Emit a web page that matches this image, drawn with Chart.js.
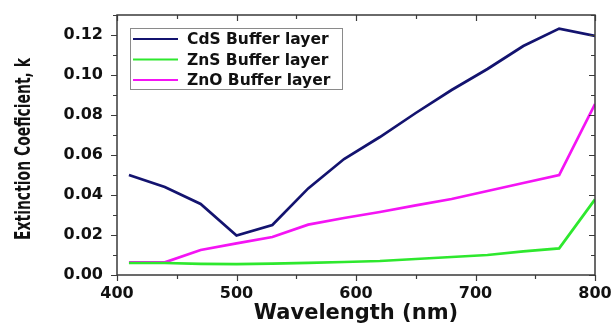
<!DOCTYPE html>
<html>
<head>
<meta charset="utf-8">
<script src="https://cdn.jsdelivr.net/npm/chart.js@4/dist/chart.umd.min.js"></script>
<style>
  html, body { margin: 0; padding: 0; background: #fff; }
  #wrap { width: 613px; height: 326px; }
</style>
</head>
<body>
<div id="wrap"><canvas id="kChart" width="613" height="326"></canvas></div>
<script>
// wavelength (nm) and extinction coefficient k
const wavelengths = [410, 440, 470, 500, 530, 560, 590, 620, 650, 680, 710, 740, 770, 800];
const cdsK = [0.050, 0.044, 0.0355, 0.0197, 0.025, 0.0433, 0.058, 0.069, 0.081, 0.0925, 0.103, 0.1145, 0.1232, 0.1195];
const znsK = [0.0060, 0.0060, 0.0056, 0.0054, 0.0057, 0.0061, 0.0065, 0.0070, 0.0080, 0.0090, 0.0100, 0.0118, 0.0133, 0.0378];
const znoK = [0.0063, 0.0063, 0.0125, 0.0158, 0.019, 0.0252, 0.0285, 0.0315, 0.0348, 0.038, 0.042, 0.046, 0.050, 0.0855];
const seriesNames = ['CdS Buffer layer', 'ZnS Buffer layer', 'ZnO Buffer layer'];
const seriesColors = ['#13136f', '#2ee82e', '#f414f4'];

const xTitle = 'Wavelength (nm)';
const yTitle = 'Extinction Coeficient, k';

function toPoints(ys) {
    return wavelengths.map((w, i) => ({ x: w, y: ys[i] }));
}

// frame, tick marks (major + minor, mirrored on top/right), narrow y title and the boxed legend
const framePlugin = {
    id: 'frame',
    afterDraw(chart) {
        const ctx = chart.ctx;
        const a = chart.chartArea;
        const xs = chart.scales.x;
        const ys = chart.scales.y;
        ctx.save();
        ctx.strokeStyle = '#3a3a3a';
        ctx.lineWidth = 1.5;
        ctx.strokeRect(a.left, a.top, a.right - a.left, a.bottom - a.top);

        ctx.lineWidth = 1.2;
        ctx.beginPath();
        ys.ticks.forEach(t => {
            const py = Math.round(ys.getPixelForValue(t.value)) + 0.5;
            const major = Math.round(t.value * 100) % 2 === 0;
            const len = major ? 6 : 4;
            ctx.moveTo(a.left, py); ctx.lineTo(a.left - len, py);
            ctx.moveTo(a.right, py); ctx.lineTo(a.right - len, py);
        });
        xs.ticks.forEach(t => {
            const px = Math.round(xs.getPixelForValue(t.value)) + 0.5;
            const major = t.value % 100 === 0;
            const len = major ? 6 : 4;
            ctx.moveTo(px, a.bottom); ctx.lineTo(px, a.bottom + len);
            ctx.moveTo(px, a.top); ctx.lineTo(px, a.top + len);
        });
        ctx.stroke();

        // y title: tall but narrow lettering, squeezed along its length
        ctx.save();
        ctx.font = 'bold 21px "DejaVu Sans Condensed", "DejaVu Sans", sans-serif';
        const tw = ctx.measureText(yTitle).width;
        ctx.translate(25, (a.top + a.bottom) / 2 + 4);
        ctx.rotate(-Math.PI / 2);
        ctx.scale(182 / tw, 1);
        ctx.fillStyle = '#111';
        ctx.textAlign = 'center';
        ctx.textBaseline = 'middle';
        ctx.fillText(yTitle, 0, 0);
        ctx.restore();

        // legend box
        const bx = a.left + 13, by = a.top + 13, bw = 212, bh = 61;
        ctx.fillStyle = '#fff';
        ctx.fillRect(bx, by, bw, bh);
        ctx.strokeStyle = '#8a8a8a';
        ctx.lineWidth = 1;
        ctx.strokeRect(bx + 0.5, by + 0.5, bw, bh);
        ctx.font = 'bold 15.5px "DejaVu Sans"';
        ctx.textBaseline = 'middle';
        chart.data.datasets.forEach((ds, i) => {
            const ry = by + 11 + i * 20.5;
            ctx.strokeStyle = ds.borderColor;
            ctx.lineWidth = 2;
            ctx.beginPath();
            ctx.moveTo(bx + 3, ry); ctx.lineTo(bx + 48, ry);
            ctx.stroke();
            ctx.fillStyle = '#111';
            ctx.fillText(ds.label, bx + 57, ry + 1);
        });
        ctx.restore();
    }
};

const ctx = document.getElementById('kChart').getContext('2d');
new Chart(ctx, {
    type: 'line',
    data: {
        datasets: seriesNames.map((name, i) => ({
            label: name,
            data: toPoints([cdsK, znsK, znoK][i]),
            borderColor: seriesColors[i],
            borderWidth: 2.7,
            pointRadius: 0,
            fill: false,
            tension: 0
        }))
    },
    options: {
        responsive: false,
        animation: false,
        layout: { padding: { left: 0, right: 18, top: 15, bottom: 0 } },
        plugins: { legend: { display: false }, tooltip: { enabled: false } },
        scales: {
            x: {
                type: 'linear',
                min: 400,
                max: 800,
                grid: { display: false, drawTicks: false },
                border: { display: false },
                ticks: {
                    stepSize: 50,
                    padding: 9,
                    color: '#111',
                    maxRotation: 0,
                    autoSkip: false,
                    font: { family: 'DejaVu Sans', weight: 'bold', size: 16 },
                    callback: v => (v % 100 === 0 ? String(v) : '')
                },
                title: {
                    display: true,
                    text: xTitle,
                    color: '#111',
                    padding: { top: 0, bottom: 0 },
                    font: { family: 'DejaVu Sans', weight: 'bold', size: 21 }
                },
                afterFit: s => { s.height = 51; s.paddingLeft = 0; s.paddingRight = 0; }
            },
            y: {
                min: 0,
                max: 0.13,
                grid: { display: false, drawTicks: false },
                border: { display: false },
                ticks: {
                    stepSize: 0.01,
                    padding: 14,
                    color: '#111',
                    autoSkip: false,
                    font: { family: 'DejaVu Sans', weight: 'bold', size: 16 },
                    callback: v => (Math.round(v * 100) % 2 === 0 ? v.toFixed(2) : '')
                },
                afterFit: s => { s.width = 117; s.paddingTop = 0; s.paddingBottom = 0; }
            }
        }
    },
    plugins: [framePlugin]
});
</script>
</body>
</html>
